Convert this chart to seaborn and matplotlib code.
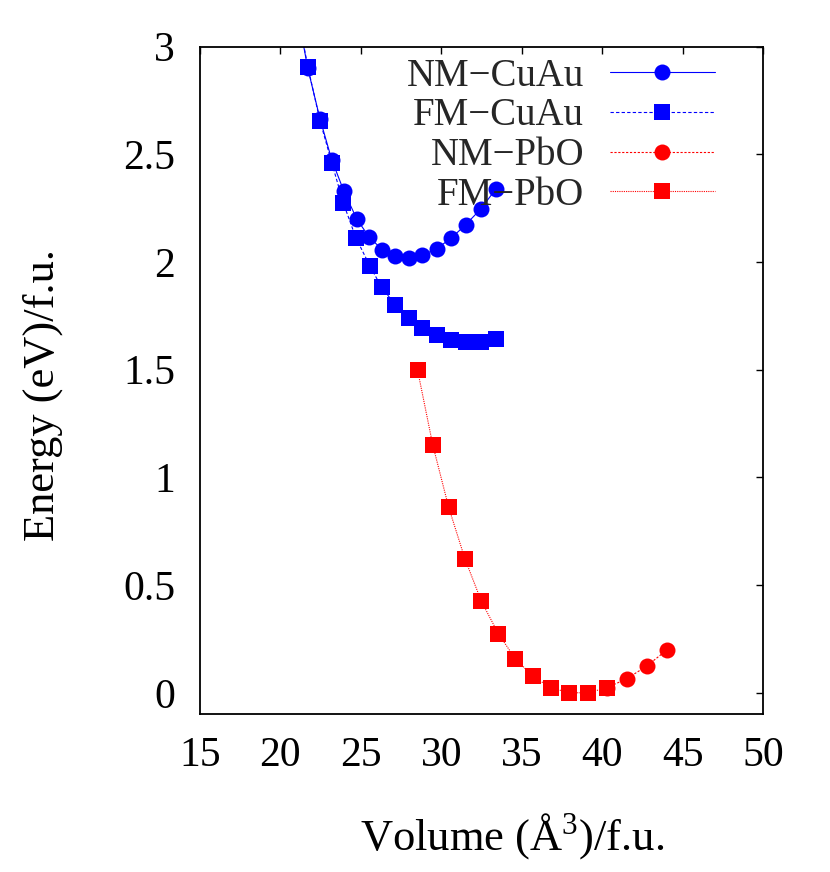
import numpy as np
import pandas as pd
import matplotlib
matplotlib.use("Agg")
import matplotlib.pyplot as plt
import seaborn as sns

# ---- data ----
nm_cuau_v = [20.98, 21.70, 22.46, 23.19, 23.95, 24.74, 25.51, 26.34, 27.14, 27.97, 28.82, 29.71, 30.60, 31.51, 32.45, 33.40]
nm_cuau_e = [3.19, 2.90, 2.665, 2.475, 2.328, 2.201, 2.116, 2.057, 2.026, 2.017, 2.031, 2.062, 2.110, 2.173, 2.246, 2.340]

fm_cuau_v = [20.98, 21.70, 22.46, 23.19, 23.91, 24.70, 25.55, 26.29, 27.14, 27.97, 28.82, 29.71, 30.60, 31.54, 32.45, 33.38]
fm_cuau_e = [3.19, 2.908, 2.656, 2.462, 2.274, 2.111, 1.984, 1.882, 1.802, 1.738, 1.692, 1.659, 1.639, 1.630, 1.630, 1.643]

nm_pbo_v = [40.28, 41.53, 42.77, 44.01]
nm_pbo_e = [0.023, 0.065, 0.124, 0.198]

fm_pbo_v = [28.53, 29.47, 30.46, 31.47, 32.49, 33.55, 34.60, 35.70, 36.82, 37.96, 39.12, 40.28]
fm_pbo_e = [1.497, 1.151, 0.861, 0.622, 0.425, 0.274, 0.158, 0.076, 0.023, 0.000, 0.000, 0.023]

labels = ["NM\u2212CuAu", "FM\u2212CuAu", "NM\u2212PbO", "FM\u2212PbO"]
x_ticks = [15, 20, 25, 30, 35, 40, 45, 50]
y_ticks = [0, 0.5, 1, 1.5, 2, 2.5, 3]
y_tick_labels = ["0", "0.5", "1", "1.5", "2", "2.5", "3"]

sns.set_theme(style="white")
plt.rcParams["font.family"] = ["Liberation Serif", "DejaVu Serif"]
plt.rcParams["mathtext.fontset"] = "custom"
plt.rcParams["mathtext.rm"] = "Liberation Serif"

fig = plt.figure(figsize=(8.3, 8.72), dpi=100)
ax = fig.add_axes([200 / 830, 1 - 714.3 / 872, 563 / 830, 667.6 / 872])

series = [
    (nm_cuau_v, nm_cuau_e, labels[0], "#0000ff", "o", 11.5, "-"),
    (fm_cuau_v, fm_cuau_e, labels[1], "#0000ff", "s", 11.0, (0, (3, 2))),
    (nm_pbo_v, nm_pbo_e, labels[2], "#ff0000", "o", 11.5, (0, (2, 1.5))),
    (fm_pbo_v, fm_pbo_e, labels[3], "#ff0000", "s", 11.0, (0, (1, 1))),
]

for v, e, lab, col, mk, ms, ls in series:
    df = pd.DataFrame({"v": v, "e": e})
    sns.lineplot(data=df, x="v", y="e", ax=ax, color=col, marker=mk,
                 markersize=ms, markeredgewidth=0, linestyle=ls,
                 linewidth=0.8, label=lab, sort=False, estimator=None)

ax.set_xlim(15, 50)
ax.set_ylim(-0.1, 3)
ax.set_xticks(x_ticks)
ax.set_xticklabels([str(t) for t in x_ticks])
ax.set_yticks(y_ticks)
ax.set_yticklabels(y_tick_labels)

for s in ax.spines.values():
    s.set_visible(True)
    s.set_color("black")
    s.set_linewidth(1.3)

ax.tick_params(axis="both", which="major", direction="in", length=5,
               width=1.0, color="black", top=True, right=True,
               labelsize=30, labelcolor="black")
ax.tick_params(axis="y", pad=18)
ax.tick_params(axis="x", pad=16)

ax.set_xlabel("Volume (\u00c5$^3$)/f.u.", fontsize=32, color="black")
ax.set_ylabel("Energy (eV)/f.u.", fontsize=32, color="black")
ax.xaxis.set_label_coords(0.555, -0.145)
ax.yaxis.set_label_coords(-0.244, 0.478)

leg = ax.legend(loc="upper right", bbox_to_anchor=(0.9145, 0.9835),
                frameon=False, fontsize=28, markerfirst=False,
                handlelength=2.7, handletextpad=0.66, labelspacing=0.07,
                borderpad=0.0, borderaxespad=0.0)

fig.savefig("out.png", dpi=100)
